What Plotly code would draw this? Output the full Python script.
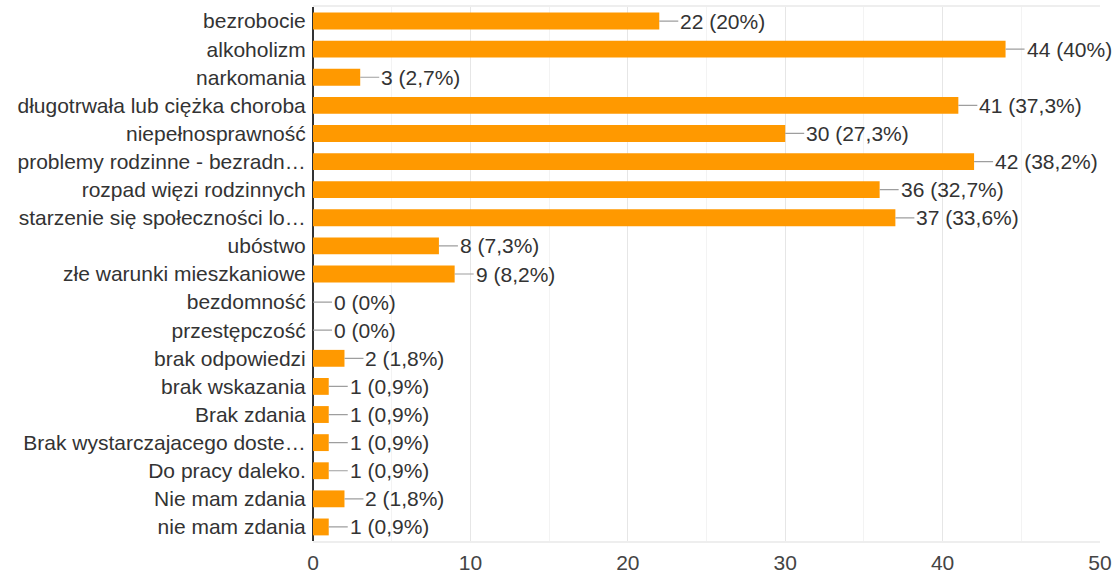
import plotly.graph_objects as go

categories = [
    "bezrobocie", "alkoholizm", "narkomania", "długotrwała lub ciężka choroba",
    "niepełnosprawność", "problemy rodzinne - bezradn…", "rozpad więzi rodzinnych",
    "starzenie się społeczności lo…", "ubóstwo", "złe warunki mieszkaniowe",
    "bezdomność", "przestępczość", "brak odpowiedzi", "brak wskazania",
    "Brak zdania", "Brak wystarczajacego doste…", "Do pracy daleko.",
    "Nie mam zdania", "nie mam zdania",
]
counts = [22, 44, 3, 41, 30, 42, 36, 37, 8, 9, 0, 0, 2, 1, 1, 1, 1, 2, 1]
total_respondents = 110


def pct_label(n):
    p = f"{n / total_respondents * 100:.1f}"
    if p.endswith(".0"):
        p = p[:-2]
    return f"{n} ({p.replace('.', ',')}%)"


labels = [pct_label(n) for n in counts]
FONT = "Liberation Sans, Arial"
FS = 21

fig = go.Figure(go.Bar(
    x=counts,
    y=categories,
    orientation="h",
    marker=dict(color="#ff9900", line=dict(width=0)),
    hoverinfo="skip",
))

# value labels with short grey leader lines
for cat, n, lab in zip(categories, counts, labels):
    fig.add_annotation(
        x=n, y=cat, xref="x", yref="y",
        text=lab, showarrow=True, arrowhead=0, arrowwidth=1.2,
        arrowcolor="#9e9e9e", ax=19, ay=0, xanchor="left",
        standoff=0, startstandoff=0,
        font=dict(family=FONT, size=FS, color="#333333"),
    )

fig.update_layout(
    width=1112, height=575,
    margin=dict(l=313, r=12, t=7, b=34),
    paper_bgcolor="white", plot_bgcolor="white",
    bargap=0.4,
    showlegend=False,
    font=dict(family=FONT, size=FS, color="#333333"),
)
fig.update_xaxes(
    range=[0, 50], dtick=10, automargin=False,
    showgrid=True, gridcolor="#e6e6e6", gridwidth=1,
    minor=dict(dtick=5, showgrid=True, gridcolor="#f3f3f3"),
    zeroline=True, zerolinecolor="#333333", zerolinewidth=1.5,
    showline=True, mirror=True, linecolor="#eeeeee", linewidth=2,
    ticks="outside", ticklen=2, tickcolor="rgba(0,0,0,0)",
    tickfont=dict(size=FS, color="#444444"),
)
fig.update_yaxes(
    autorange="reversed", showgrid=False, automargin=False,
    ticks="outside", ticklen=2, tickcolor="rgba(0,0,0,0)",
    tickfont=dict(size=FS, color="#333333"),
)

# drop the default page margin so the figure fills the window
fig.write_html("out.html", config={"displayModeBar": False},
               post_script="document.body.style.margin='0';")
